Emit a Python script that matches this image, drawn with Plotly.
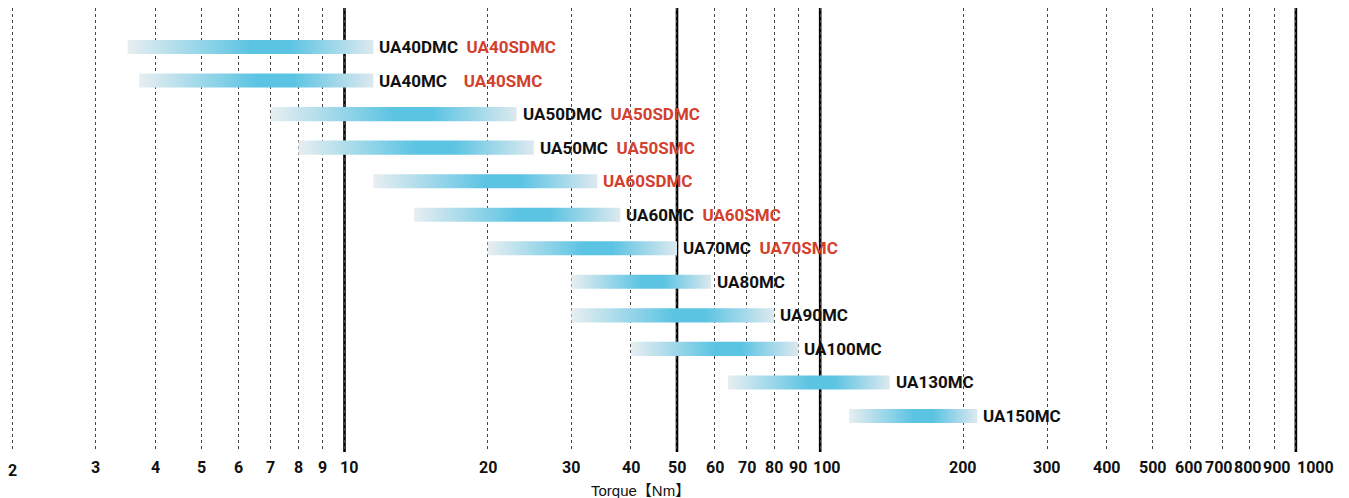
import numpy as np
import plotly.graph_objects as go

# ---- data ----
models_black = ["UA40DMC", "UA40MC", "UA50DMC", "UA50MC", "", "UA60MC",
                "UA70MC", "UA80MC", "UA90MC", "UA100MC", "UA130MC", "UA150MC"]
models_red = ["UA40SDMC", "UA40SMC", "UA50SDMC", "UA50SMC", "UA60SDMC", "UA60SMC",
              "UA70SMC", "", "", "", "", ""]
torque_min = [3.5, 3.7, 7, 8, 11.5, 14, 20, 30, 30, 40, 64, 115]
torque_max = [11.5, 11.5, 23, 25, 34, 38, 50, 59, 80, 90, 140, 214]
tick_values = [2, 3, 4, 5, 6, 7, 8, 9, 10, 20, 30, 40, 50, 60, 70, 80, 90,
               100, 200, 300, 400, 500, 600, 700, 800, 900, 1000]
major_lines = [10, 50, 100, 1000]
x_title = "Torque【Nm】"

# ---- style ----
FONT = "Roboto, Liberation Sans, sans-serif"
RED = "#d2402e"
BLACK = "#111111"
HALF = 0.21
label_shift = {1000: 20, 900: 3, 800: -2, 700: -3, 600: -1, 10: 4, 100: 7}

fig = go.Figure()
scale = [[0, "#e8eef1"], [0.5, "#5cc4e3"], [0.66, "#5cc4e3"], [1, "#dce9ef"]]
for i, (lo, hi) in enumerate(zip(torque_min, torque_max)):
    fig.add_trace(go.Scatter(
        x=[lo, hi, hi, lo, lo], y=[i - HALF, i - HALF, i + HALF, i + HALF, i - HALF],
        mode="lines", line=dict(width=0), fill="toself",
        fillgradient=dict(type="horizontal", colorscale=scale),
        hoverinfo="skip", showlegend=False))
    parts = []
    if models_black[i]:
        parts.append(f"<b>{models_black[i]}</b>")
    if models_red[i]:
        parts.append(f"<span style='color:{RED}'><b>{models_red[i]}</b></span>")
    sep = "    " if models_black[i] == "UA40MC" else "  "
    fig.add_annotation(x=np.log10(hi), y=i, xref="x", yref="y", text=sep.join(parts),
                       showarrow=False, xanchor="left", yanchor="middle", xshift=4,
                       font=dict(family=FONT, size=17, color=BLACK))

for v in major_lines:
    fig.add_shape(type="line", x0=v, x1=v, y0=0, y1=1, xref="x", yref="paper",
                  line=dict(color="#000000", width=2.6), layer="below")

# tick labels
for v in tick_values:
    fig.add_annotation(x=np.log10(v), y=-0.041 if v == 2 else -0.034,
                       xref="x", yref="paper", text=f"<b>{v}</b>", showarrow=False,
                       xanchor="center", yanchor="middle", xshift=label_shift.get(v, 0),
                       font=dict(family=FONT, size=16, color=BLACK))

fig.add_annotation(x=0.469, y=-0.086, xref="paper", yref="paper", text=x_title,
                   showarrow=False, xanchor="center", yanchor="middle",
                   font=dict(family="Liberation Sans, Noto Sans CJK JP, sans-serif",
                             size=15, color=BLACK))

fig.update_layout(
    width=1349, height=498,
    margin=dict(l=0, r=0, t=0, b=54),
    plot_bgcolor="white", paper_bgcolor="white",
    xaxis=dict(type="log", range=[0.2926, 3.1285], tickvals=tick_values,
               showticklabels=False,
               showgrid=True, gridcolor="#444444", gridwidth=1, griddash="dot",
               showline=False, zeroline=False, ticks=""),
    yaxis=dict(range=[12.073, -1.163], showgrid=False, showticklabels=False,
               zeroline=False, showline=False),
)

fig.write_html("out.html")
